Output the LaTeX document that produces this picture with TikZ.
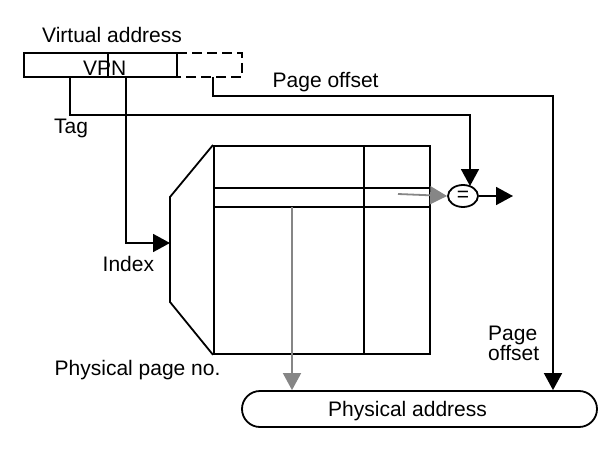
\documentclass[tikz,border=0pt]{standalone}
\usepackage{fontspec}
\setmainfont{Liberation Sans}
\usetikzlibrary{arrows.meta,shapes.geometric}
\begin{document}
\begin{tikzpicture}[x=1pt,y=-1pt,
  every node/.style={font=\fontsize{21}{24}\selectfont, inner sep=0pt},
  ln/.style={line width=1.8pt, line join=miter},
  arr/.style={ln, -{Triangle[length=17pt,width=18pt]}},
  garr/.style={arr, draw=gray!95},
  lbl/.style={anchor=base west}]
\useasboundingbox (0,0) rectangle (616,460);
% labels
\node[lbl] (va) at (42,43) {Virtual address};
\node[lbl] (tag) at (54,133) {Tag};
\node[lbl] (pol) at (272.5,88) {Page offset};
\node[lbl] (idx) at (102.5,271.5) {Index};
\node[lbl] (ppn) at (54.5,375) {Physical page no.};
\node[lbl] (pg1) at (488,340) {Page};
\node[lbl] (pg2) at (488,360) {offset};
% VPN box
\node[draw, ln, minimum width=153pt, minimum height=24pt] (vpn) at (100.5,65) {};
\node[lbl] (vpnt) at (83,75) {VPN};
\draw[ln] (108,53) -- (108,77);
% dashed offset box
\coordinate (poa) at (177,53);
\coordinate (pob) at (242,77);
\draw[ln, dash pattern=on 10pt off 5pt] (poa) -- (242,53) -- (pob) -- (177,77);
% TLB table
\node[draw, ln, minimum width=216pt, minimum height=208pt, anchor=north west] (tlb) at (213,145) {};
\draw[ln] (364,145) -- (364,353);
\draw[ln] (213,188) -- (429,188);
\draw[ln] (213,207) -- (429,207);
% decoder
\draw[ln] (tlb.north west) -- (170,197) -- (170,302) -- (tlb.south west);
\coordinate (dec) at (170,243);
% comparator
\node[draw, ln, ellipse, minimum width=30pt, minimum height=22pt] (cmp) at (463,196) {=};
\coordinate (out) at (513,196);
% physical address
\node[draw, ln, rounded corners=18pt, minimum width=355pt, minimum height=36pt] (pa) at (419.5,409) {};
\node[lbl] (pat) at (328,416) {Physical address};
% connectors
\draw[arr] (70,77) -- (70,115) -- (470,115) -- (470,186);
\draw[arr] (126,77) -- (126,243) -- (dec);
\draw[arr] (213,77) -- (213,96) -- (553,96) -- (pa.north -| 553,0);
\draw[garr] (398,194) -- (cmp.west);
\draw[garr] (292,207) -- (pa.north -| 292,0);
\draw[arr] (cmp.east) -- (out);
\end{tikzpicture}
\end{document}
